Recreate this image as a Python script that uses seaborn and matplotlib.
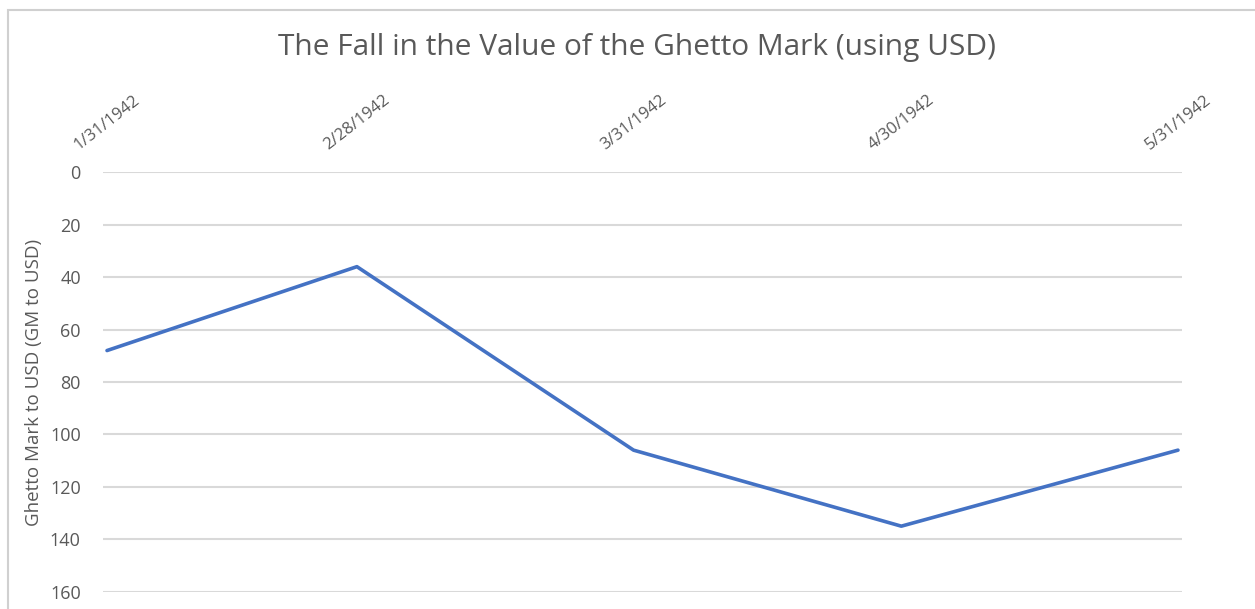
import matplotlib
matplotlib.use("Agg")
import matplotlib.pyplot as plt
import matplotlib.patches as mpatches
import seaborn as sns
import pandas as pd

dates = ["1942-01-31", "1942-02-28", "1942-03-31", "1942-04-30", "1942-05-31"]
date_labels = ["1/31/1942", "2/28/1942", "3/31/1942", "4/30/1942", "5/31/1942"]
gm_to_usd = [68, 36, 106, 135, 106]
y_ticks = [0, 20, 40, 60, 80, 100, 120, 140, 160]

title = "The Fall in the Value of the Ghetto Mark (using USD)"
ylabel = "Ghetto Mark to USD (GM to USD)"

sns.set_theme(style="white")
plt.rcParams['font.family'] = ['Open Sans', 'DejaVu Sans']

df = pd.DataFrame({"date": pd.to_datetime(dates), "value": gm_to_usd})

fig = plt.figure(figsize=(12.55, 6.09), dpi=100)
ax = fig.add_axes([103/1255, 1 - 591.7/609, (1182-103)/1255, (591.7-172.3)/609])

# outer chart border
fig.patches.append(mpatches.Rectangle((8/1255, -0.05), 1.2, 1 - 10/609 + 0.05,
                                      transform=fig.transFigure, fill=False,
                                      edgecolor="#d0d0d0", linewidth=1.5))

sns.lineplot(data=df, x="date", y="value", ax=ax, color="#4472C4", linewidth=2.6)

pad = pd.Timedelta(days=0.45)
ax.set_xlim(df["date"].min() - pad, df["date"].max() + pad)
ax.set_ylim(160, 0)
ax.set_yticks(y_ticks)
ax.set_yticklabels([str(v) for v in y_ticks], color="#595959", fontsize=13)
ax.yaxis.grid(True, color="#d9d9d9", linewidth=1.5)
ax.xaxis.grid(False)
for s in ax.spines.values():
    s.set_visible(False)

ax.set_xticks(df["date"])
ax.xaxis.tick_top()
ax.set_xticklabels(date_labels, rotation=38, ha="center", va="bottom",
                   color="#595959", fontsize=12)
ax.tick_params(axis="x", length=0, pad=14)
ax.tick_params(axis="y", length=0, pad=16)

ax.set_xlabel("")
ax.set_ylabel(ylabel, color="#595959", fontsize=13.5)
ax.yaxis.set_label_coords(-0.056, 0.5)

fig.text(637/1255, 1 - 48/609, title, ha="center", va="center",
         fontsize=21.5, color="#595959")

fig.savefig("out.png", dpi=100, facecolor="white")
